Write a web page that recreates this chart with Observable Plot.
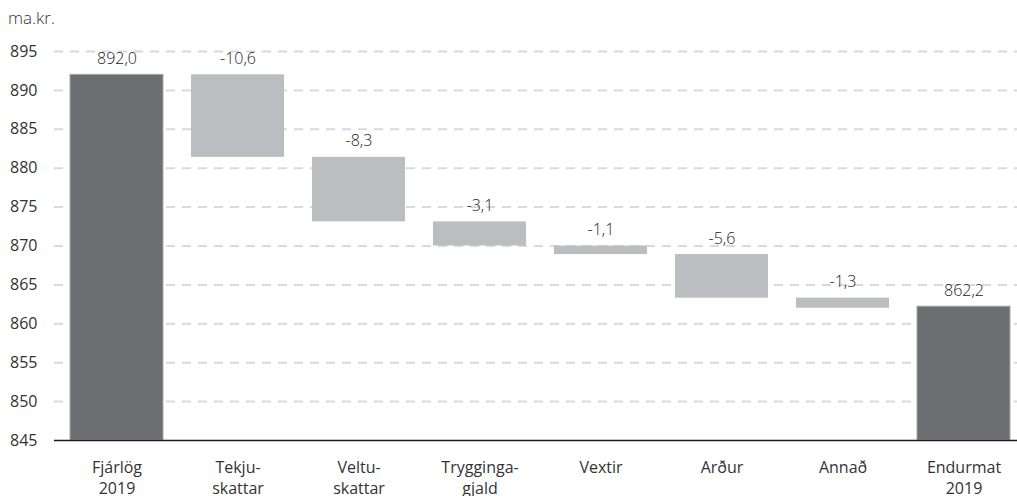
<!DOCTYPE html>
<html>
<head>
<meta charset="utf-8">
<script src="https://cdn.jsdelivr.net/npm/d3@7"></script>
<script src="https://cdn.jsdelivr.net/npm/@observablehq/plot@0.6"></script>
<style>
  html, body { margin: 0; padding: 0; background: #fff; }
  #wrap { position: relative; width: 1017px; height: 496px; font-family: "Open Sans", "Noto Sans", sans-serif; }
  #unit { position: absolute; left: 8px; top: 6px; font-size: 17px; color: #333; font-weight: 300; }
  #chart { position: absolute; left: 0; top: 0; }
</style>
</head>
<body>
<div id="wrap">
  <div id="chart"></div>
  <div id="unit">ma.kr.</div>
</div>
<script>
const categories = ["Fjárlög\n2019", "Tekju-\nskattar", "Veltu-\nskattar", "Trygginga-\ngjald", "Vextir", "Arður", "Annað", "Endurmat\n2019"];
const startValue = 892.0;
const changes = [-10.6, -8.3, -3.1, -1.1, -5.6, -1.3];
const endValue = 862.2;
const yTicks = [845, 850, 855, 860, 865, 870, 875, 880, 885, 890, 895];

const fmt = v => v.toFixed(1).replace(".", ",");

// build waterfall rows
const rows = [];
rows.push({cat: categories[0], y1: 845, y2: startValue, top: startValue, label: fmt(startValue), total: true});
let run = startValue;
changes.forEach((c, i) => {
  const next = run + c;
  rows.push({cat: categories[i + 1], y1: next, y2: run, top: Math.max(run, next), label: fmt(c), total: false});
  run = next;
});
rows.push({cat: categories[7], y1: 845, y2: endValue, top: endValue, label: fmt(endValue), total: true});

const chart = Plot.plot({
  width: 1017,
  height: 496,
  marginLeft: 54,
  marginRight: 0,
  marginTop: 51,
  marginBottom: 56,
  style: {fontFamily: "'Open Sans', 'Noto Sans', sans-serif", fontSize: "16px", color: "#333", background: "#fff"},
  x: {domain: categories, range: [68, 1012], paddingInner: 0.235, paddingOuter: 0, label: null},
  y: {domain: [845, 895], label: null},
  marks: [
    Plot.ruleY(yTicks.slice(1), {stroke: "#d9d9d9", strokeWidth: 2, strokeDasharray: "9,7"}),
    Plot.barY(rows, {x: "cat", y1: "y1", y2: "y2", fill: d => d.total ? "#6d6e71" : "#bcbdc0", stroke: d => d.total ? "#a7a8aa" : "none", strokeWidth: 1, insetLeft: 0, insetRight: 0}),
    Plot.ruleY([845], {stroke: "#1a1a1a", strokeWidth: 1.5}),
    Plot.text(rows, {x: "cat", y: "top", text: "label", dy: -16, fontSize: 16, fill: "#222", fontWeight: 300}),
    Plot.axisY({ticks: yTicks, tickSize: 0, tickPadding: 17, fontSize: 16, fill: "#333", label: null, tickFormat: d => String(d)}),
    Plot.axisX({tickSize: 0, tickPadding: 17, fontSize: 16, fill: "#333", label: null, lineHeight: 1.35})
  ]
});
document.getElementById("chart").appendChild(chart);
</script>
</body>
</html>
